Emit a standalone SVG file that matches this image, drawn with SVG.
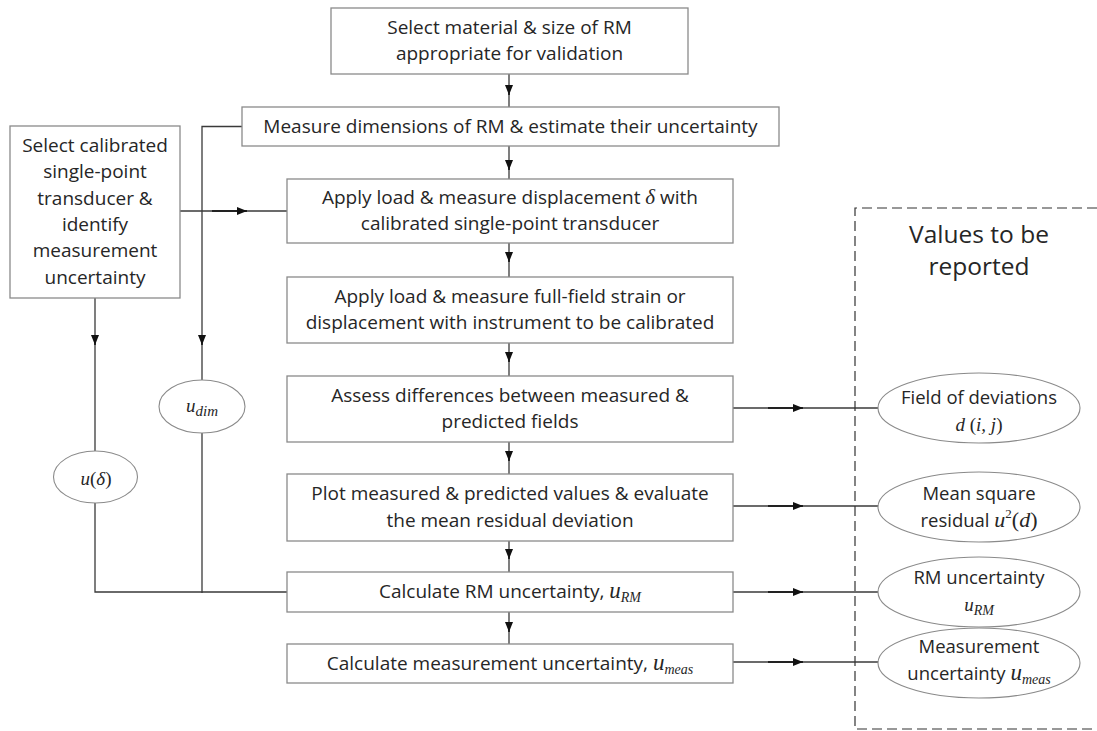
<svg xmlns="http://www.w3.org/2000/svg" width="1097" height="731" viewBox="0 0 1097 731">
<defs>
<style>
.box{fill:#fff;stroke:#8a8a8a;stroke-width:1.3}
.ell{fill:#fff;stroke:#8a8a8a;stroke-width:1.1}
.t{font-family:"Open Sans","Liberation Sans",sans-serif;font-size:19px;fill:#262626;text-anchor:middle}
.s{font-size:18.5px}
.big{font-size:24.5px}
.m{font-family:"Liberation Serif",serif;font-style:italic}
.c{fill:none;stroke:#3a3a3a;stroke-width:1.3}
.a{fill:none;stroke:#222;stroke-width:1.8}
.d{fill:none;stroke:#333;stroke-width:1.2;stroke-dasharray:10,5}
</style>
<marker id="ah" viewBox="0 0 10 8" refX="10" refY="4" markerWidth="10" markerHeight="8" markerUnits="userSpaceOnUse" orient="auto">
<path d="M0,0 L10,4 L0,8 z" fill="#111"/>
</marker>
</defs>
<rect width="1097" height="731" fill="#fff"/>

<g id="connectors">
<path class="c" d="M509,74 V107"/>
<path class="c" d="M509,146 V179"/>
<path class="c" d="M509,243 V277"/>
<path class="c" d="M509,343 V376"/>
<path class="c" d="M509,442 V474"/>
<path class="c" d="M509,541 V572"/>
<path class="c" d="M509,612 V644"/>
<path class="a" d="M509,85 V95" marker-end="url(#ah)"/>
<path class="a" d="M509,160 V170" marker-end="url(#ah)"/>
<path class="a" d="M509,252 V262" marker-end="url(#ah)"/>
<path class="a" d="M509,352 V362" marker-end="url(#ah)"/>
<path class="a" d="M509,451 V461" marker-end="url(#ah)"/>
<path class="a" d="M509,549 V559" marker-end="url(#ah)"/>
<path class="a" d="M509,622 V632" marker-end="url(#ah)"/>
<path class="c" d="M180,211 H287"/>
<path class="a" d="M212,211 H247" marker-end="url(#ah)"/>
<path class="c" d="M242,126.5 H202 V380"/>
<path class="a" d="M202,335 V345" marker-end="url(#ah)"/>
<path class="c" d="M202,433 V593"/>
<path class="c" d="M95,298 V451"/>
<path class="a" d="M95,335 V345" marker-end="url(#ah)"/>
<path class="c" d="M95,503 V592 H287"/>
<path class="c" d="M733,408 H879"/>
<path class="a" d="M768,408 H803" marker-end="url(#ah)"/>
<path class="c" d="M733,506 H879"/>
<path class="a" d="M768,506 H803" marker-end="url(#ah)"/>
<path class="c" d="M733,592 H879"/>
<path class="a" d="M768,592 H803" marker-end="url(#ah)"/>
<path class="c" d="M733,662 H879"/>
<path class="a" d="M768,662 H803" marker-end="url(#ah)"/>
</g>

<g id="reported-frame">
<path class="d" d="M1097,208 H855 V729 H1097"/>
<text class="t big" x="979" y="243">Values to be</text>
<text class="t big" x="979" y="275">reported</text>
</g>

<g id="n-select-material">
<rect class="box" x="331" y="8" width="357" height="66"/>
<text class="t" x="509.5" y="34">Select material &amp; size of RM</text>
<text class="t" x="509.5" y="60">appropriate for validation</text>
</g>

<g id="n-measure-dimensions">
<rect class="box" x="242" y="107" width="537" height="39"/>
<text class="t" x="510.5" y="133">Measure dimensions of RM &amp; estimate their uncertainty</text>
</g>

<g id="n-select-transducer">
<rect class="box" x="10" y="126" width="170" height="172"/>
<text class="t" x="95" y="152">Select calibrated</text>
<text class="t" x="95" y="178.3">single-point</text>
<text class="t" x="95" y="204.6">transducer &amp;</text>
<text class="t" x="95" y="230.9">identify</text>
<text class="t" x="95" y="257.2">measurement</text>
<text class="t" x="95" y="283.5">uncertainty</text>
</g>

<g id="n-apply-displacement">
<rect class="box" x="287" y="179" width="446" height="64"/>
<text class="t" x="510" y="204">Apply load &amp; measure displacement <tspan class="m" font-size="21">δ</tspan> with</text>
<text class="t" x="510" y="230">calibrated single-point transducer</text>
</g>

<g id="n-apply-fullfield">
<rect class="box" x="287" y="277" width="446" height="66"/>
<text class="t" x="510" y="303">Apply load &amp; measure full-field strain or</text>
<text class="t" x="510" y="329">displacement with instrument to be calibrated</text>
</g>

<g id="n-assess">
<rect class="box" x="287" y="376" width="446" height="66"/>
<text class="t" x="510" y="402">Assess differences between measured &amp;</text>
<text class="t" x="510" y="428">predicted fields</text>
</g>

<g id="n-plot">
<rect class="box" x="287" y="474" width="446" height="67"/>
<text class="t" x="510" y="500">Plot measured &amp; predicted values &amp; evaluate</text>
<text class="t" x="510" y="527">the mean residual deviation</text>
</g>

<g id="n-calc-rm">
<rect class="box" x="287" y="572" width="446" height="40"/>
<text class="t" x="510" y="598">Calculate RM uncertainty, <tspan class="m" font-size="23">u</tspan><tspan class="m" font-size="14" dy="4">RM</tspan></text>
</g>

<g id="n-calc-meas">
<rect class="box" x="287" y="644" width="446" height="39"/>
<text class="t" x="510" y="670">Calculate measurement uncertainty, <tspan class="m" font-size="23">u</tspan><tspan class="m" font-size="14" dy="4">meas</tspan></text>
</g>

<g id="n-udim">
<ellipse class="ell" cx="202" cy="406.5" rx="43" ry="26.5"/>
<text class="t m" x="202" y="412" font-size="26">u<tspan font-size="15" dy="4">dim</tspan></text>
</g>

<g id="n-udelta">
<ellipse class="ell" cx="95.5" cy="477" rx="42" ry="26"/>
<text class="t m" x="96" y="485" font-size="25">u<tspan font-style="normal">(</tspan>δ<tspan font-style="normal">)</tspan></text>
</g>

<g id="n-field-deviations">
<ellipse class="ell" cx="979" cy="408" rx="101" ry="35"/>
<text class="t s" x="979" y="404">Field of deviations</text>
<text class="t m" x="979" y="431" font-size="22">d <tspan font-style="normal">(</tspan>i, j<tspan font-style="normal">)</tspan></text>
</g>

<g id="n-mean-square">
<ellipse class="ell" cx="979" cy="507" rx="101" ry="35"/>
<text class="t s" x="979" y="500">Mean square</text>
<text class="t s" x="979" y="527">residual <tspan class="m" font-size="22">u</tspan><tspan font-family="Liberation Serif" font-size="13" dy="-9">2</tspan><tspan font-family="Liberation Serif" font-size="22" dy="9">(</tspan><tspan class="m" font-size="22">d</tspan><tspan font-family="Liberation Serif" font-size="22">)</tspan></text>
</g>

<g id="n-rm-uncertainty">
<ellipse class="ell" cx="979" cy="592" rx="101" ry="35"/>
<text class="t s" x="979" y="584">RM uncertainty</text>
<text class="t m" x="979" y="611" font-size="23">u<tspan font-size="14" dy="4">RM</tspan></text>
</g>

<g id="n-meas-uncertainty">
<ellipse class="ell" cx="979" cy="663" rx="101" ry="35"/>
<text class="t s" x="979" y="653">Measurement</text>
<text class="t s" x="979" y="680">uncertainty <tspan class="m" font-size="23">u</tspan><tspan class="m" font-size="14" dy="4">meas</tspan></text>
</g>
</svg>
